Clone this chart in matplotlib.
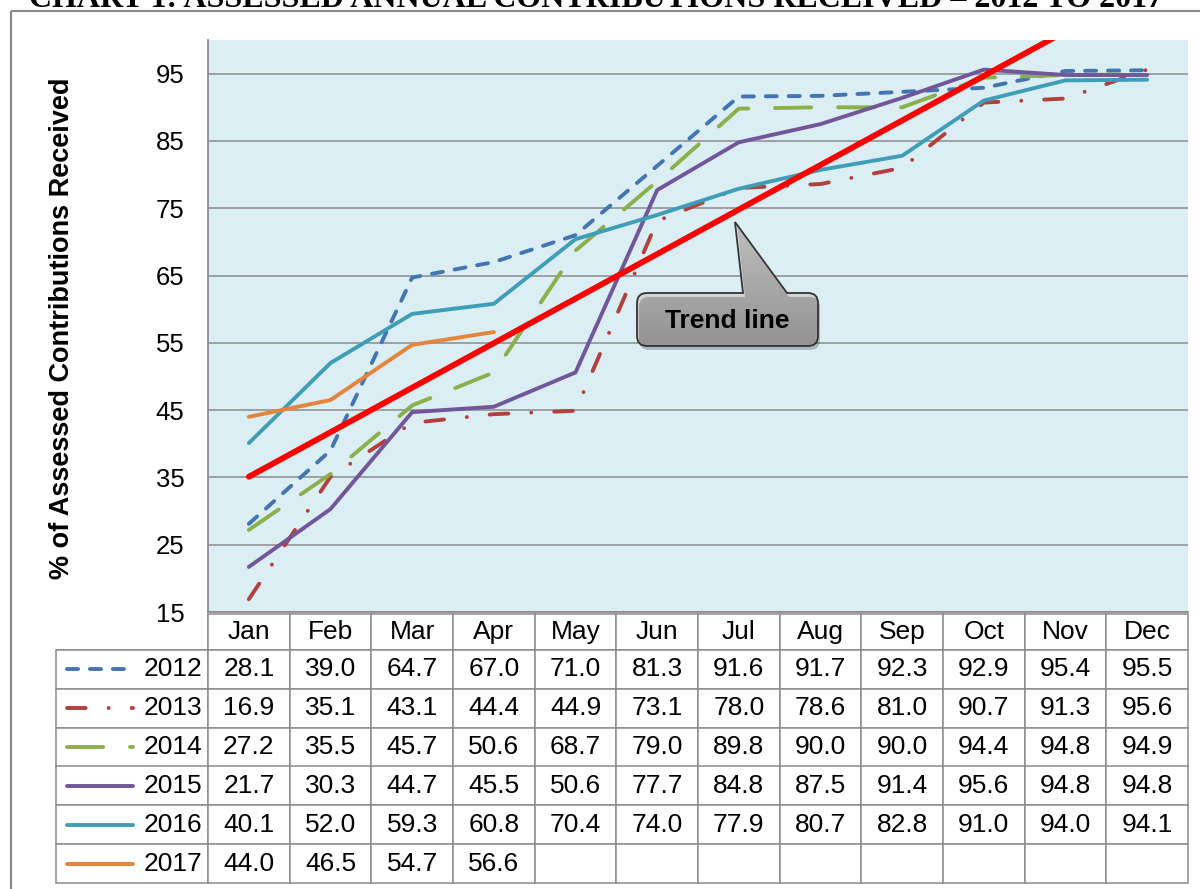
import matplotlib
matplotlib.use("Agg")
import matplotlib.pyplot as plt
import numpy as np
from matplotlib.colors import LinearSegmentedColormap
from matplotlib.patches import PathPatch, Rectangle
from matplotlib.path import Path
from matplotlib.table import Table

plt.rcParams['font.family'] = ['Liberation Sans', 'DejaVu Sans']

# ---- data ---------------------------------------------------------------
months = ['Jan', 'Feb', 'Mar', 'Apr', 'May', 'Jun',
          'Jul', 'Aug', 'Sep', 'Oct', 'Nov', 'Dec']
years = ['2012', '2013', '2014', '2015', '2016', '2017']
pct_2012 = [28.1, 39.0, 64.7, 67.0, 71.0, 81.3, 91.6, 91.7, 92.3, 92.9, 95.4, 95.5]
pct_2013 = [16.9, 35.1, 43.1, 44.4, 44.9, 73.1, 78.0, 78.6, 81.0, 90.7, 91.3, 95.6]
pct_2014 = [27.2, 35.5, 45.7, 50.6, 68.7, 79.0, 89.8, 90.0, 90.0, 94.4, 94.8, 94.9]
pct_2015 = [21.7, 30.3, 44.7, 45.5, 50.6, 77.7, 84.8, 87.5, 91.4, 95.6, 94.8, 94.8]
pct_2016 = [40.1, 52.0, 59.3, 60.8, 70.4, 74.0, 77.9, 80.7, 82.8, 91.0, 94.0, 94.1]
pct_2017 = [44.0, 46.5, 54.7, 56.6]
trend_months = [0, 11]          # Jan .. Dec
trend_vals = [35.1, 107.9]      # straight red trend line (clipped at top)
yticks = [15, 25, 35, 45, 55, 65, 75, 85, 95]

series = [pct_2012, pct_2013, pct_2014, pct_2015, pct_2016, pct_2017]
colors = ['#4374B3', '#B2403D', '#8BAF4B', '#71579A', '#409DB8', '#E6843A']
dashes = [(0, (2.85, 3.05)), (0, (4.8, 5.9, 0.01, 5.9)), (0, (9.3, 6.9)),
          '-', '-', '-']
LW = 2.8

W, H = 1200, 889
GRID = '#8C8C8C'
fig = plt.figure(figsize=(W / 100, H / 100), dpi=100)


def fx(px):
    return px / W


def fy(py):
    return 1 - py / H


# plot area in pixels: x 208..1188, y 40..612
PL, PR, PT, PB = 208, 1188, 40, 612
ax = fig.add_axes([fx(PL), fy(PB), fx(PR) - fx(PL), fy(PT) - fy(PB)])
ax.set_facecolor('#DBEEF4')
ax.set_xlim(-0.5, 11.5)
ax.set_ylim(15, 100)
ax.set_xticks([])
ax.set_yticks(yticks)
ax.tick_params(axis='y', length=0, pad=17, labelsize=18.5)
ax.grid(axis='y', color=GRID, lw=1.1)
ax.set_axisbelow(True)
for s in ('top', 'right'):
    ax.spines[s].set_visible(False)
for s in ('left', 'bottom'):
    ax.spines[s].set_color(GRID)
    ax.spines[s].set_linewidth(1.3)

x = np.arange(len(months))
for vals, col, ls in zip(series, colors, dashes):
    ax.plot(x[:len(vals)], vals, color=col, lw=LW, linestyle=ls,
            dash_capstyle='round', solid_capstyle='round',
            solid_joinstyle='round', dash_joinstyle='round')
ax.plot(trend_months, trend_vals, color='#FF0000', lw=4.2,
        solid_capstyle='round', zorder=5)


# ---- data table under the plot ------------------------------------------
def xa(px):
    return (px - PL) / (PR - PL)


def ya(py):
    return (PB - py) / (PB - PT)


TL, TT, TB = 56, 614, 883
label_w, month_w = 152.0, (PR - PL) / 12
head_h = 36.0
row_h = (TB - TT - head_h) / len(years)

tbl = Table(ax, bbox=[xa(TL), ya(TB), xa(PR) - xa(TL), ya(TT) - ya(TB)])
tbl.auto_set_font_size(False)
for c in range(13):
    w = label_w if c == 0 else month_w
    cell = tbl.add_cell(0, c, width=w, height=head_h,
                        text='' if c == 0 else months[c - 1],
                        loc='center', facecolor='white', edgecolor=GRID)
    if c == 0:
        cell.visible_edges = 'BR'
    for r, vals in enumerate(series, start=1):
        txt = ''
        if c > 0 and c - 1 < len(vals):
            txt = f'{vals[c - 1]:.1f}'
        tbl.add_cell(r, c, width=w, height=row_h, text=txt, loc='center',
                     facecolor='white', edgecolor=GRID)
for cell in tbl.get_celld().values():
    cell.set_linewidth(1.1)
    cell.get_text().set_fontsize(19)
ax.add_table(tbl)

for i, (yr, col, ls) in enumerate(zip(years, colors, dashes)):
    yc = TT + head_h + row_h * (i + 0.5)
    ax.plot([xa(67), xa(133)], [ya(yc), ya(yc)], transform=ax.transAxes,
            clip_on=False, color=col, lw=LW, linestyle=ls,
            dash_capstyle='round', solid_capstyle='round')
    ax.text(xa(202), ya(yc), yr, transform=ax.transAxes, ha='right',
            va='center', fontsize=19, clip_on=False)

# ---- titles ---------------------------------------------------------------
fig.text(fx(62), fy((PT + PB) / 2 + 2), '% of Assessed Contributions Received',
         rotation=90, ha='center', va='center', fontsize=19.5, weight='bold')
fig.text(fx(596), fy(7),
         'CHART 1: ASSESSED ANNUAL CONTRIBUTIONS RECEIVED \u2013 2012 TO 2017',
         ha='center', va='baseline', fontsize=23, weight='bold',
         family='Liberation Serif')

# ---- overlay in pixel coordinates: outer frame + callout ----------------
ov = fig.add_axes([0, 0, 1, 1])
ov.set_xlim(0, W)
ov.set_ylim(H, 0)
ov.axis('off')
ov.patch.set_alpha(0)
ov.add_patch(Rectangle((11, 11), 1400, 1000, fill=False, ec=GRID, lw=1.6))

bx0, bx1, by0, by1, rr = 637, 818, 293, 346, 10
tip = (735, 222)
base0, base1 = 743, 787
verts = [(bx0 + rr, by0), (base0, by0), tip, (base1, by0), (bx1 - rr, by0),
         (bx1, by0), (bx1, by0 + rr), (bx1, by1 - rr),
         (bx1, by1), (bx1 - rr, by1), (bx0 + rr, by1),
         (bx0, by1), (bx0, by1 - rr), (bx0, by0 + rr),
         (bx0, by0), (bx0 + rr, by0), (bx0 + rr, by0)]
codes = [Path.MOVETO, Path.LINETO, Path.LINETO, Path.LINETO, Path.LINETO,
         Path.CURVE3, Path.CURVE3, Path.LINETO,
         Path.CURVE3, Path.CURVE3, Path.LINETO,
         Path.CURVE3, Path.CURVE3, Path.LINETO,
         Path.CURVE3, Path.CURVE3, Path.CLOSEPOLY]
callout = Path(verts, codes)
shadow = Path(np.array(verts) + [2, 4], codes)
ov.add_patch(PathPatch(shadow, fc=(0, 0, 0, 0.22), ec='none'))
body = PathPatch(callout, fc='none', ec='none')
ov.add_patch(body)
grad = LinearSegmentedColormap.from_list('callout', ['#F4F4F4', '#BDBDBD'])
im = ov.imshow(np.linspace(0, 1, 100).reshape(-1, 1), cmap=grad,
               extent=(bx0, bx1, by1, tip[1]), aspect='auto')
im.set_clip_path(body)
ov.add_patch(PathPatch(callout, fc='none', ec='#333333', lw=1.3))
ov.text((bx0 + bx1) / 2, (by0 + by1) / 2 + 1, 'Trend line', ha='center',
        va='center', fontsize=19, weight='bold')
ov.set_xlim(0, W)
ov.set_ylim(H, 0)

fig.savefig('out.png', dpi=100)
